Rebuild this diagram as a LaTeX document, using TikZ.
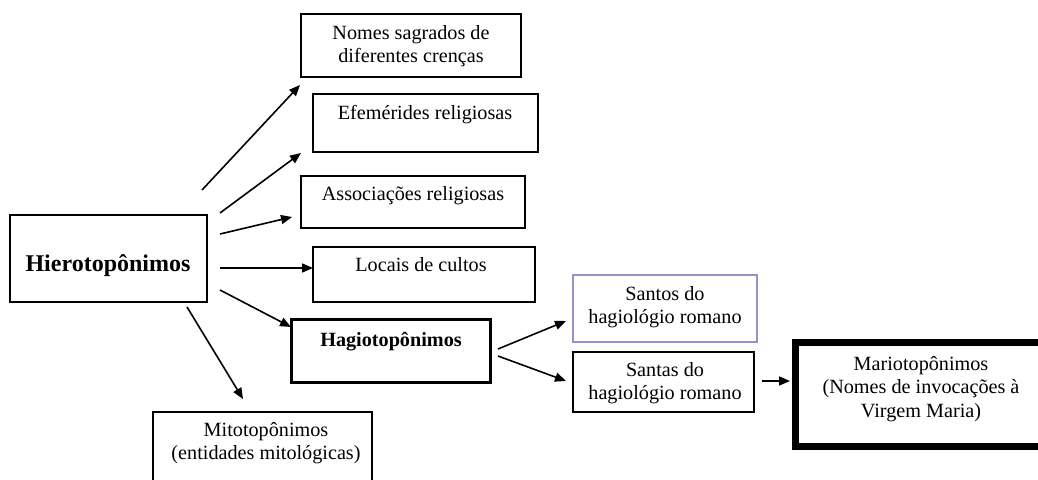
\documentclass[tikz,border=0pt]{standalone}
\usepackage{fontspec}
\setmainfont{Liberation Serif}
\usetikzlibrary{arrows.meta}
\definecolor{lilac}{RGB}{160,140,200}
\begin{document}
\begin{tikzpicture}[x=0.5pt,y=-0.5pt,
 box/.style={draw,line width=0.75pt,inner sep=0pt,anchor=center},
 txt/.style={align=center,font=\fontsize{10.1}{11.7}\selectfont,text height=7pt,text depth=2.5pt,inner sep=0pt},
 multi/.style={align=center,font=\fontsize{10.1}{11.7}\selectfont,inner sep=0pt},
 big/.style={align=center,font=\bfseries\fontsize{12}{14}\selectfont,text height=8.4pt,text depth=3pt,inner sep=0pt},
 arr/.style={line width=0.8pt,-{Triangle[length=5.5pt,width=4.5pt]}}]
\clip (0,0) rectangle (1038,480);
\fill[white] (0,0) rectangle (1038,480);
% boxes
\node[box,minimum width=98.5pt,minimum height=43.5pt] (hiero) at (108.5,258.5) {};
\node[box,minimum width=110pt,minimum height=31.5pt] (nomes) at (411,45.5) {};
\node[box,minimum width=112.5pt,minimum height=29pt] (efem) at (425.5,123) {};
\node[box,minimum width=112pt,minimum height=26pt] (assoc) at (413,202) {};
\node[box,minimum width=111pt,minimum height=27.5pt] (locais) at (424,274.5) {};
\node[box,line width=1.5pt,minimum width=99.5pt,minimum height=31.5pt] (hagio) at (390.5,351.5) {};
\node[box,draw=lilac,minimum width=92pt,minimum height=33.5pt] (santos) at (665,308.5) {};
\node[box,minimum width=90.5pt,minimum height=30pt] (santas) at (663.5,382) {};
\node[box,line width=3.5pt,minimum width=127.25pt,minimum height=52pt] (mario) at (922.75,394.5) {};
\node[box,minimum width=109.5pt,minimum height=41.5pt] (mito) at (262.5,453.5) {};
% texts
\node[big] (thiero) at (108,266) {Hierotopônimos};
\node[multi] (tnomes) at (411,46) {Nomes sagrados de\\diferentes crenças};
\node[txt] (tefem) at (425,115) {Efemérides religiosas};
\node[txt] (tassoc) at (413,196) {Associações religiosas};
\node[txt] (tlocais) at (421,267) {Locais de cultos};
\node[txt,font=\bfseries\fontsize{10.1}{11.7}\selectfont] (thagio) at (391,342) {Hagiotopônimos};
\node[multi] (tsantos) at (665,307) {Santos do\\hagiológio romano};
\node[multi] (tsantas) at (665,383) {Santas do\\hagiológio romano};
\node[multi] (tmario) at (921,389) {Mariotopônimos\\(Nomes de invocações à\\Virgem Maria)};
\node[multi] (tmito) at (266,443) {Mitotopônimos\\(entidades mitológicas)};
% connector end points
\coordinate (s1) at (202,190); \coordinate (e1) at (300,85);
\coordinate (s2) at (220,213); \coordinate (e2) at (301,153);
\coordinate (s3) at (220,234); \coordinate (e3) at (292,217);
\coordinate (s4) at (220,268); \coordinate (e4) at (313,268);
\coordinate (s5) at (220,290); \coordinate (e5) at (291,327);
\coordinate (s6) at (187,307); \coordinate (e6) at (243,399);
\coordinate (s7) at (498,349); \coordinate (e7) at (566,321);
\coordinate (s8) at (498,356); \coordinate (e8) at (566,381);
\coordinate (s9) at (762,381); \coordinate (e9) at (790,381);
\draw[arr] (s1) -- (e1);
\draw[arr] (s2) -- (e2);
\draw[arr] (s3) -- (e3);
\draw[arr] (s4) -- (e4);
\draw[arr] (s5) -- (e5);
\draw[arr] (s6) -- (e6);
\draw[arr] (s7) -- (e7);
\draw[arr] (s8) -- (e8);
\draw[arr] (s9) -- (e9);
\end{tikzpicture}
\end{document}
